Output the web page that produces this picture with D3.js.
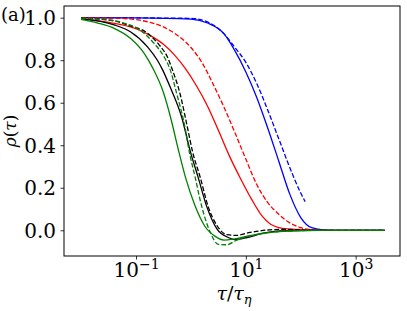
<!DOCTYPE html>
<html>
  <body style="margin:0">
    <style>
      svg { display: block; background: #fff; }
      text { font-family: "DejaVu Serif", "Liberation Serif", serif; fill: #000; }
    </style>
    <script src="https://d3js.org/d3.v7.min.js"></script>
    <script type="text/javascript">
      const width = 407;
      const height = 311;
      const margin = {top: 6, right: 7, bottom: 55, left: 64};
      const serif = '"DejaVu Serif", "Liberation Serif", serif';

      // [tau / tau_eta, rho]
      const blueSolid = [[0.01, 1.0], [0.1, 0.999], [1, 0.993], [2.0, 0.975], [3.98, 0.925], [6.31, 0.845],
        [10, 0.745], [15.8, 0.625], [25.1, 0.48], [39.8, 0.325], [63.1, 0.17], [100, 0.06],
        [158, 0.012], [251, 0.002], [398, 0], [3390, 0]];
      const blueDashed = [[0.01, 1.0], [1, 0.997], [2.0, 0.98], [3.98, 0.925], [6.31, 0.86], [10, 0.79],
        [15.8, 0.69], [25.1, 0.565], [39.8, 0.43], [63.1, 0.295], [100, 0.175], [120, 0.135]];
      const redSolid = [[0.01, 0.997], [0.032, 0.978], [0.1, 0.948], [0.2, 0.91], [0.316, 0.875],
        [0.5, 0.825], [0.794, 0.76], [1.26, 0.68], [2.0, 0.585], [3.16, 0.47], [5.01, 0.35],
        [7.94, 0.245], [12.6, 0.148], [20.0, 0.065], [28.2, 0.028], [39.8, 0.013], [63.1, 0.006],
        [126, 0.002], [316, 0], [3390, 0]];
      const redDashed = [[0.01, 1.0], [0.05, 0.997], [0.2, 0.975], [0.5, 0.927], [1, 0.86], [1.58, 0.79],
        [2.51, 0.69], [3.98, 0.58], [6.31, 0.46], [10, 0.335], [15.8, 0.215], [25.1, 0.13],
        [39.8, 0.075], [63.1, 0.035], [100, 0.012], [158, 0.003], [200, 0.001]];
      const blackSolid = [[0.01, 0.994], [0.04, 0.966], [0.079, 0.934], [0.162, 0.863], [0.245, 0.80],
        [0.302, 0.757], [0.417, 0.675], [0.676, 0.534], [0.977, 0.37], [1.35, 0.25], [1.95, 0.11],
        [2.95, 0.008], [4.79, -0.034], [6.31, -0.044], [10.5, -0.034], [20.0, -0.015], [41.7, -0.003],
        [200, 0], [3390, 0]];
      const blackDashed = [[0.01, 0.998], [0.04, 0.985], [0.069, 0.966], [0.162, 0.927], [0.282, 0.863],
        [0.372, 0.816], [0.457, 0.757], [0.631, 0.644], [0.859, 0.487], [1.07, 0.37], [1.47, 0.251],
        [2.07, 0.11], [2.95, 0.024], [4.47, -0.02], [6.76, -0.024], [12.0, -0.01], [41.7, 0.004],
        [200, 0], [3390, 0]];
      const greenSolid = [[0.01, 0.992], [0.02, 0.975], [0.04, 0.95], [0.079, 0.903], [0.141, 0.832],
        [0.2, 0.765], [0.316, 0.648], [0.437, 0.52], [0.589, 0.38], [0.794, 0.25], [1.17, 0.12],
        [1.78, 0.02], [2.82, -0.03], [3.98, -0.046], [6.31, -0.04], [12.6, -0.024], [39.8, -0.006],
        [200, 0], [3390, 0]];
      const greenDashed = [[0.01, 0.997], [0.032, 0.99], [0.063, 0.973], [0.105, 0.95], [0.214, 0.879],
        [0.324, 0.816], [0.417, 0.757], [0.55, 0.644], [0.776, 0.487], [0.933, 0.37], [1.19, 0.251],
        [1.58, 0.11], [2.24, -0.008], [3.16, -0.066], [4.47, -0.068], [6.76, -0.047], [12.6, -0.025],
        [39.8, -0.006], [200, 0], [3390, 0]];

      const series = [
        {data: blueSolid, color: '#0000ff', dashed: false},
        {data: blueDashed, color: '#0000ff', dashed: true},
        {data: redSolid, color: '#ff0000', dashed: false},
        {data: redDashed, color: '#ff0000', dashed: true},
        {data: blackSolid, color: '#000000', dashed: false},
        {data: blackDashed, color: '#000000', dashed: true},
        {data: greenSolid, color: '#008000', dashed: false},
        {data: greenDashed, color: '#008000', dashed: true},
      ];

      const xTicks = [1e-1, 1e1, 1e3];
      const xTickExp = ['\u22121', '1', '3'];
      const yTicks = [0.0, 0.2, 0.4, 0.6, 0.8, 1.0];

      const xScale = d3.scaleLog()
        .domain([Math.pow(10, -2.311), Math.pow(10, 3.807)])
        .range([margin.left, width - margin.right]);

      const yScale = d3.scaleLinear()
        .domain([-0.121, 1.055])
        .range([height - margin.bottom, margin.top]);

      const svg = d3.select('body')
        .append('svg')
        .attr('width', width)
        .attr('height', height);

      const line = d3.line()
        .x((d) => xScale(d[0]))
        .y((d) => yScale(d[1]))
        .curve(d3.curveMonotoneX);

      svg.append('g')
        .selectAll('path')
        .data(series)
        .enter()
        .append('path')
        .attr('d', (d) => line(d.data))
        .attr('fill', 'none')
        .attr('stroke', (d) => d.color)
        .attr('stroke-width', 1.3)
        .attr('stroke-dasharray', (d) => d.dashed ? '4.8,2.1' : null);

      // axes
      const xAxis = svg.append('g')
        .attr('transform', `translate(0,${height - margin.bottom})`)
        .call(d3.axisBottom(xScale).tickValues(xTicks).tickSize(3.5).tickFormat(''));
      const yAxis = svg.append('g')
        .attr('transform', `translate(${margin.left},0)`)
        .call(d3.axisLeft(yScale).tickValues(yTicks).tickSize(3.5).tickFormat(d3.format('.1f')));

      [xAxis, yAxis].forEach((g) => {
        g.attr('font-family', null);
        g.select('.domain').remove();
        g.selectAll('line').attr('stroke', '#000').attr('stroke-width', 0.8);
      });

      yAxis.selectAll('text')
        .attr('x', -8)
        .attr('dy', '0.36em')
        .style('font-size', '20px')
        .style('font-family', serif);

      const xl = xAxis.selectAll('.tick')
        .append('text')
        .attr('y', 21)
        .attr('text-anchor', 'middle')
        .style('font-size', '20px')
        .style('font-family', serif);
      xl.append('tspan').text('10');
      xl.append('tspan')
        .attr('dy', -8)
        .style('font-size', '14px')
        .text((d, i) => xTickExp[i]);

      // frame
      svg.append('rect')
        .attr('x', margin.left)
        .attr('y', margin.top)
        .attr('width', width - margin.left - margin.right)
        .attr('height', height - margin.top - margin.bottom)
        .attr('fill', 'none')
        .attr('stroke', '#000')
        .attr('stroke-width', 1);

      // labels
      const xLabel = svg.append('text')
        .attr('x', (margin.left + width - margin.right) / 2 + 2)
        .attr('y', 300)
        .attr('text-anchor', 'middle')
        .style('font-size', '19px');
      xLabel.append('tspan').style('font-style', 'italic').text('\u03c4');
      xLabel.append('tspan').text('/');
      xLabel.append('tspan').style('font-style', 'italic').text('\u03c4');
      xLabel.append('tspan').attr('dy', 4).style('font-size', '13px').style('font-style', 'italic').text('\u03b7');

      const yLabel = svg.append('text')
        .attr('transform', `translate(16,${(margin.top + height - margin.bottom) / 2}) rotate(-90)`)
        .attr('text-anchor', 'middle')
        .style('font-size', '17px');
      yLabel.append('tspan').style('font-style', 'italic').text('\u03c1');
      yLabel.append('tspan').text('(');
      yLabel.append('tspan').style('font-style', 'italic').text('\u03c4');
      yLabel.append('tspan').text(')');

      svg.append('text')
        .attr('x', 1)
        .attr('y', 21)
        .style('font-size', '18px')
        .text('(a)');
    </script>
  </body>
</html>
